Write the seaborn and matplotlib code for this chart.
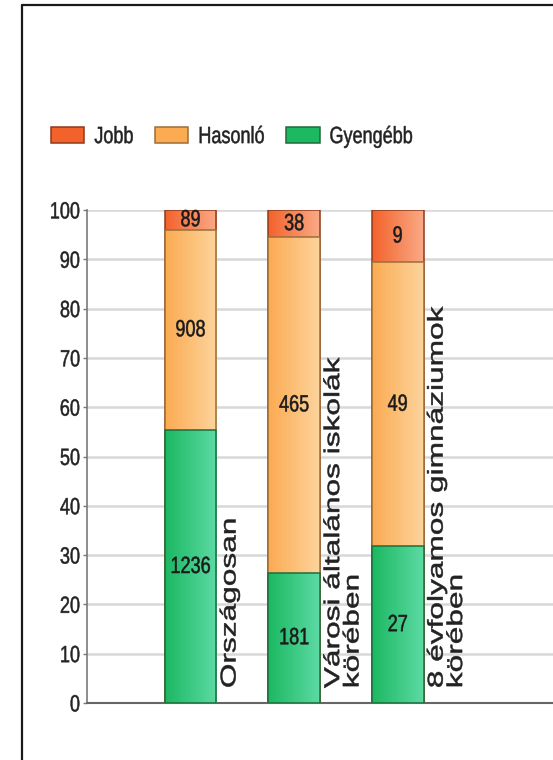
import numpy as np
import pandas as pd
import matplotlib
matplotlib.use('Agg')
import matplotlib.pyplot as plt
import seaborn as sns
from matplotlib import patheffects
from matplotlib.colors import LinearSegmentedColormap
from matplotlib.lines import Line2D
from matplotlib.patches import Patch
from matplotlib.transforms import Affine2D

# Data (counts written in the segments)
categories = ['Országosan',
              'Városi általános iskolák\nkörében',
              '8 évfolyamos gimnáziumok\nkörében']
series = ['Jobb', 'Hasonló', 'Gyengébb']
jobb = [89, 38, 9]
hasonlo = [908, 465, 49]
gyengebb = [1236, 181, 27]
y_ticks = list(range(0, 101, 10))

counts = pd.DataFrame({'category': categories,
                       'Jobb': jobb,
                       'Hasonló': hasonlo,
                       'Gyengébb': gyengebb})

# Bars are 100% stacked, Gyengébb at the bottom
share = counts[series].div(counts[series].sum(axis = 1), axis = 0) * 100
top = {'Gyengébb': share['Gyengébb'],
       'Hasonló': share['Gyengébb'] + share['Hasonló'],
       'Jobb': share.sum(axis = 1)}
bottom = {'Gyengébb': share['Gyengébb'] * 0,
          'Hasonló': top['Gyengébb'],
          'Jobb': top['Hasonló']}

# Colours: left / right end of the horizontal gradient, and the outline
grad = {'Jobb': ('#f4622c', '#f9aa86'),
        'Hasonló': ('#fbab52', '#fdd49c'),
        'Gyengébb': ('#1cb862', '#5cdaa4')}
edge = {'Jobb': '#8c3b1c', 'Hasonló': '#9c6e3a', 'Gyengébb': '#1f6b3c'}


class Stretch(patheffects.AbstractPathEffect):
    # the source screenshot is squashed sideways, so the glyphs look tall (and a bit heavy)
    def __init__(self, sy, lw = 0.35):
        super().__init__()
        self.sy = sy
        self.lw = lw

    def draw_path(self, renderer, gc, tpath, affine, rgbFace=None):
        cy = affine.transform((0, 36))[1]
        stretch = Affine2D().translate(0, -cy).scale(1, self.sy).translate(0, cy)
        gc0 = renderer.new_gc()
        gc0.copy_properties(gc)
        gc0.set_foreground(rgbFace)
        gc0.set_linewidth(self.lw)
        renderer.draw_path(gc0, tpath, affine + stretch, rgbFace)
        gc0.restore()


def paint_gradient(ax, patch, c_left, c_right, z):
    x0, y0 = patch.get_x(), patch.get_y()
    w, h = patch.get_width(), patch.get_height()
    cmap = LinearSegmentedColormap.from_list('bar', [c_left, c_right])
    im = ax.imshow(np.linspace(0, 1, 64)[None, :], cmap = cmap,
                   extent = [x0, x0 + w, y0, y0 + h], aspect = 'auto',
                   interpolation = 'bilinear', zorder = z - 0.05)
    im.set_clip_path(patch)


sns.set_style('white')
plt.rcParams['font.family'] = ['Liberation Sans', 'DejaVu Sans']

fig = plt.figure(figsize = (5.53, 7.6), dpi = 100)
ax = fig.add_axes([87 / 553, 1 - 703 / 760, 1 - 87 / 553, (703 - 210) / 760])

for z, name in enumerate(series, start = 2):
    n_before = len(ax.patches)
    sns.barplot(x = counts['category'], y = top[name], color = grad[name][0],
                saturation = 1, width = 0.5, errorbar = None,
                edgecolor = edge[name], linewidth = 1.1, zorder = z, ax = ax)
    for p in ax.patches[n_before:]:
        p.set_facecolor('none')
        paint_gradient(ax, p, grad[name][0], grad[name][1], z)

# Counts in the middle of each segment
for name in series:
    mids = (bottom[name] + top[name]) / 2
    for i, (m, n) in enumerate(zip(mids, counts[name])):
        t = ax.text(i, m, str(n), ha = 'center', va = 'center', fontsize = 13,
                    color = '#1a1a1a', zorder = 6)
        t.set_path_effects([Stretch(1.3)])

# Category names, rotated, next to each bar
for i, cat in enumerate(categories):
    t = ax.text(i + 0.28, 3, cat, rotation = 90, ha = 'left', va = 'bottom',
                fontsize = 15.5, linespacing = 0.9, color = '#222222', zorder = 6)
    t.set_path_effects([Stretch(1.47)])

ax.set_xlim(-1.0, 3.5)
ax.set_ylim(0, 100)
ax.set_yticks(y_ticks)
ax.set_xticks([])
ax.set(xlabel = '', ylabel = '')
ax.yaxis.grid(True, color = '#d8d8d8', linewidth = 1.8)
ax.set_axisbelow(True)

for side in ['top', 'right']:
    ax.spines[side].set_visible(False)
ax.spines['left'].set_color('#7a7a7a')
ax.spines['left'].set_linewidth(1.2)
ax.spines['bottom'].set_color('#666666')
ax.spines['bottom'].set_linewidth(1.5)

ax.tick_params(axis = 'y', left = True, length = 3, width = 1, color = '#7a7a7a',
               pad = 2, labelsize = 13, labelcolor = '#222222')
for lbl in ax.get_yticklabels():
    lbl.set_path_effects([Stretch(1.3)])

# Legend across the top
handles = [Patch(facecolor = grad[s][0], edgecolor = edge[s], linewidth = 1.1) for s in series]
leg = fig.legend(handles, series, loc = 'center left',
                 bbox_to_anchor = (51 / 553, 1 - 136 / 760), ncol = 3,
                 frameon = False, fontsize = 13, handlelength = 1.85,
                 handleheight = 1.0, handletextpad = 0.55, columnspacing = 1.2,
                 borderpad = 0, borderaxespad = 0)
for t in leg.get_texts():
    t.set_color('#222222')
    t.set_path_effects([Stretch(1.3)])

# Frame of the original panel (left and top edge)
fig.add_artist(Line2D([22 / 553, 22 / 553], [0, 1 - 5 / 760], color = '#1a1a1a', linewidth = 1.6))
fig.add_artist(Line2D([22 / 553, 1], [1 - 5 / 760, 1 - 5 / 760], color = '#1a1a1a', linewidth = 1.6))

fig.savefig('out.png', dpi = 100)
plt.close()
